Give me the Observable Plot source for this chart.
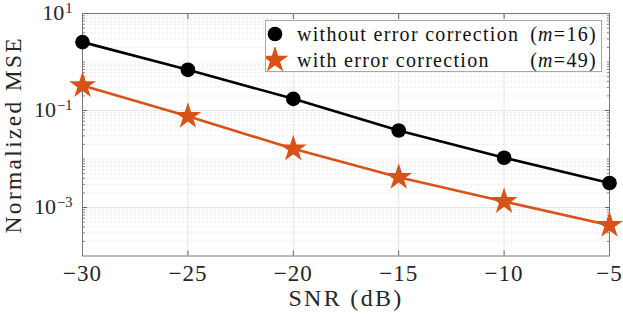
<!DOCTYPE html>
<html><head><meta charset="utf-8">
<script src="https://cdn.jsdelivr.net/npm/d3@7"></script>
<script src="https://cdn.jsdelivr.net/npm/@observablehq/plot@0.6"></script>
<style>
body{margin:0;background:#fff;}
#wrap{position:relative;width:623px;height:319px;font-family:"Liberation Serif",serif;color:#000;}
#legend{position:absolute;left:265px;top:20px;width:335px;height:50px;border:1px solid #a8a8a8;background:#fff;font-size:20px;letter-spacing:1.3px;color:#111;}
.row{position:absolute;left:0;right:0;height:26px;}
.row svg{position:absolute;left:0;top:0;}
.lab{position:absolute;left:31px;top:0;line-height:26px;white-space:nowrap;}
.mm{position:absolute;right:4px;top:0;line-height:26px;white-space:nowrap;}
</style></head>
<body><div id="wrap"></div>
<script>
const snr = [-30, -25, -20, -15, -10, -5];
const mseWithout = [2.57, 0.69, 0.174, 0.0387, 0.0106, 0.0032];
const mseWith = [0.327, 0.076, 0.0162, 0.0042, 0.00133, 0.00043];
const xTicks = [-30, -25, -20, -15, -10, -5];
const yTicks = [1e-3, 1e-1, 1e1];
const yTickLabels = ["10^−3", "10^−1", "10^1"];
const seriesNames = ["without error correction", "with error correction"];
const seriesM = ["16", "49"];
const xLabel = "SNR (dB)";
const yLabel = "Normalized MSE";

const black = "#000000", orange = "#D95319";
const rowsWithout = snr.map((x, i) => ({x, y: mseWithout[i]}));
const rowsWith = snr.map((x, i) => ({x, y: mseWith[i]}));

const minorY = [];
for (let e = -4; e <= 0; e++) for (let k = 1; k <= 9; k++) {
  const v = k * Math.pow(10, e);
  if (k === 1 && (e === -3 || e === -1 || e === -4)) continue;
  minorY.push(v);
}

const fmt = d => yTickLabels[yTicks.indexOf(d)] ?? "";

const plot = Plot.plot({
  width: 623, height: 319,
  marginLeft: 82, marginRight: 14, marginTop: 13, marginBottom: 63.5,
  style: {fontFamily: "Liberation Serif, serif", fontSize: "22px", background: "#fff", color: "#000"},
  x: {domain: [-30, -5], label: null},
  y: {type: "log", domain: [1e-4, 10], label: null},
  marks: [
    Plot.ruleY(minorY, {stroke: "#e4e4e4", strokeWidth: 0.8, strokeDasharray: "2,2"}),
    Plot.ruleY(yTicks, {stroke: "#e6e6e6", strokeWidth: 1}),
    Plot.ruleX(xTicks, {stroke: "#e6e6e6", strokeWidth: 1}),
    Plot.axisX({anchor: "bottom", ticks: xTicks, tickSize: -5, tickFormat: () => "", stroke: "#666"}),
    Plot.axisX({anchor: "top", ticks: xTicks, tickSize: -5, tickFormat: () => "", stroke: "#666"}),
    Plot.axisY({anchor: "left", ticks: yTicks, tickSize: -5, tickFormat: () => "", stroke: "#666"}),
    Plot.axisY({anchor: "right", ticks: yTicks, tickSize: -5, tickFormat: () => "", stroke: "#666"}),
    Plot.axisY({anchor: "left", ticks: minorY, tickSize: -3, tickFormat: () => "", stroke: "#888"}),
    Plot.axisY({anchor: "right", ticks: minorY, tickSize: -3, tickFormat: () => "", stroke: "#888"}),
    Plot.axisX({anchor: "bottom", ticks: xTicks, tickSize: 0, tickPadding: 9, fill: "#262626", fontSize: 23}),
    Plot.axisY({anchor: "left", ticks: yTicks, tickSize: 0, tickPadding: 10, tickFormat: fmt, fill: "#262626", fontSize: 22, dy: -1}),
    Plot.frame({stroke: "#777", strokeWidth: 1}),
    Plot.line(rowsWithout, {x: "x", y: "y", stroke: black, strokeWidth: 2.6}),
    Plot.line(rowsWith, {x: "x", y: "y", stroke: orange, strokeWidth: 2.6}),
    Plot.dot(rowsWithout, {x: "x", y: "y", r: 6.6, fill: black, stroke: black}),
    Plot.dot(rowsWith, {x: "x", y: "y", r: 7, symbol: "star", fill: orange, stroke: orange, strokeWidth: 1.5}),
    Plot.text([xLabel], {text: d => d, frameAnchor: "bottom", textAnchor: "middle", dy: 42, lineAnchor: "middle", fontSize: 24, fill: "#262626"}),
    Plot.text([yLabel], {text: d => d, frameAnchor: "left", textAnchor: "middle", dx: -69, rotate: -90, lineAnchor: "middle", fontSize: 23.5, fill: "#262626"})
  ]
});

// superscript exponents in y tick labels
d3.select(plot).selectAll('g[aria-label="y-axis tick label"] text').each(function() {
  const t = d3.select(this);
  const s = t.text();
  if (!s.includes("^")) return;
  const [b, e] = s.split("^");
  t.text("");
  t.append("tspan").text(b);
  t.append("tspan").attr("dy", "-7").attr("dx", "1").attr("font-size", "14.5px").text(e);
});
d3.select(plot).selectAll('g[aria-label="x-axis tick label"] text').style("letter-spacing", "1px");
const labs = d3.select(plot).selectAll('g[aria-label="text"] text');
labs.filter(function() { return this.textContent === xLabel; }).style("letter-spacing", "2.3px");
labs.filter(function() { return this.textContent === yLabel; }).style("letter-spacing", "2.3px");

const wrap = document.getElementById("wrap");
wrap.appendChild(plot);

// legend
const leg = document.createElement("div");
leg.id = "legend";
wrap.appendChild(leg);
const markers = [
  d3.symbol(d3.symbolCircle, Math.PI * 6.6 * 6.6)(),
  d3.symbol(d3.symbolStar, Math.PI * 7 * 7)()
];
const colors = [black, orange];
seriesNames.forEach((name, i) => {
  const row = document.createElement("div");
  row.className = "row";
  row.style.top = (i * 26) + "px";
  row.innerHTML = `<svg width="30" height="26"><path transform="translate(9,13)" d="${markers[i]}" fill="${colors[i]}" stroke="${colors[i]}" stroke-width="1.5"/></svg>` +
    `<span class="lab">${name}</span><span class="mm">(<i>m</i>=${seriesM[i]})</span>`;
  leg.appendChild(row);
});
</script>
</body></html>
